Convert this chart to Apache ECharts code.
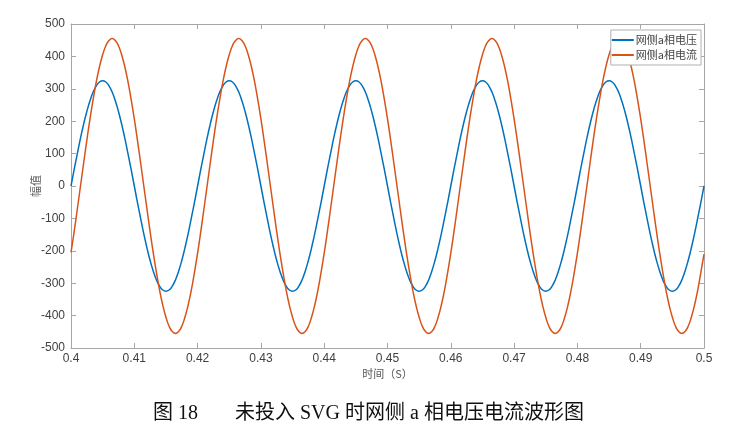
<!DOCTYPE html>
<html>
<head>
<meta charset="utf-8">
<script src="https://cdn.jsdelivr.net/npm/echarts@6/dist/echarts.min.js"></script>
<style>html,body{margin:0;padding:0;background:#fff}#c{width:731px;height:432px}</style>
</head>
<body>
<div id="c"></div>
<script>
// sampling grid: 0.4 s to 0.5 s every 0.5 ms
var tStart = 0.4;
var tStep = 0.0005;
var voltage = [
0,51,100,148,191,230,263,290,309,321,325,321,309,290,263,230,191,148,100,51,
0,-51,-100,-148,-191,-230,-263,-290,-309,-321,-325,-321,-309,-290,-263,-230,-191,-148,-100,-51,
0,51,100,148,191,230,263,290,309,321,325,321,309,290,263,230,191,148,100,51,
0,-51,-100,-148,-191,-230,-263,-290,-309,-321,-325,-321,-309,-290,-263,-230,-191,-148,-100,-51,
0,51,100,148,191,230,263,290,309,321,325,321,309,290,263,230,191,148,100,51,
0,-51,-100,-148,-191,-230,-263,-290,-309,-321,-325,-321,-309,-290,-263,-230,-191,-148,-100,-51,
0,51,100,148,191,230,263,290,309,321,325,321,309,290,263,230,191,148,100,51,
0,-51,-100,-148,-191,-230,-263,-290,-309,-321,-325,-321,-309,-290,-263,-230,-191,-148,-100,-51,
0,51,100,148,191,230,263,290,309,321,325,321,309,290,263,230,191,148,100,51,
0,-51,-100,-148,-191,-230,-263,-290,-309,-321,-325,-321,-309,-290,-263,-230,-191,-148,-100,-51,
0];
var current = [
-205,-141,-71,0,71,141,207,267,322,368,405,433,449,455,449,433,405,368,322,267,
207,141,71,0,-71,-141,-207,-267,-322,-368,-405,-433,-449,-455,-449,-433,-405,-368,-322,-267,
-207,-141,-71,0,71,141,207,267,322,368,405,433,449,455,449,433,405,368,322,267,
207,141,71,0,-71,-141,-207,-267,-322,-368,-405,-433,-449,-455,-449,-433,-405,-368,-322,-267,
-207,-141,-71,0,71,141,207,267,322,368,405,433,449,455,449,433,405,368,322,267,
207,141,71,0,-71,-141,-207,-267,-322,-368,-405,-433,-449,-455,-449,-433,-405,-368,-322,-267,
-207,-141,-71,0,71,141,207,267,322,368,405,433,449,455,449,433,405,368,322,267,
207,141,71,0,-71,-141,-207,-267,-322,-368,-405,-433,-449,-455,-449,-433,-405,-368,-322,-267,
-207,-141,-71,0,71,141,207,267,322,368,405,433,449,455,449,433,405,368,322,267,
207,141,71,0,-71,-141,-207,-267,-322,-368,-405,-433,-449,-455,-449,-433,-405,-368,-322,-267,
-210];
var seriesNames = ['网侧a相电压','网侧a相电流'];
var xName = '时间（S）';
var yName = '幅值';
var captionNo = '图 18';
var captionText = '未投入 SVG 时网侧 a 相电压电流波形图';

function pairs(vals){ return vals.map(function(v,i){ return [+(tStart + i*tStep).toFixed(4), v]; }); }

var axisGrey = '#a6a6a6';
var labelColor = '#404040';
var chart = echarts.init(document.getElementById('c'));
chart.setOption({
  animation: false,
  backgroundColor: '#fff',
  grid: {left: 71, right: 27, top: 24, bottom: 84},
  legend: {
    right: 30, top: 30, orient: 'vertical', itemGap: 1,
    itemWidth: 22, itemHeight: 2, padding: [3, 4, 3, 1],
    borderColor: '#b0b0b0', borderWidth: 1, backgroundColor: '#fff',
    textStyle: {fontSize: 11, lineHeight: 14, color: '#444', fontFamily: 'Noto Sans CJK SC', padding: [0, 0, 0, -3]},
    icon: 'rect',
    data: seriesNames
  },
  xAxis: [{
    type: 'value', min: 0.4, max: 0.5, interval: 0.01,
    name: xName, nameLocation: 'middle', nameGap: 20, nameMoveOverlap: false,
    nameTextStyle: {fontSize: 11, color: '#555', fontFamily: 'Noto Sans CJK SC'},
    axisLine: {show: true, onZero: false, lineStyle: {color: axisGrey}},
    axisTick: {inside: true, length: 5, lineStyle: {color: axisGrey}},
    axisLabel: {color: labelColor, fontSize: 12, fontFamily: 'Liberation Sans', margin: 5,
      formatter: function(v){ return String(+v.toFixed(2)); }},
    splitLine: {show: false}
  },{
    type: 'value', position: 'top', min: 0.4, max: 0.5, interval: 0.01,
    axisLine: {show: true, onZero: false, lineStyle: {color: axisGrey}},
    axisTick: {inside: true, length: 5, lineStyle: {color: axisGrey}},
    axisLabel: {show: false}, splitLine: {show: false}
  }],
  yAxis: [{
    type: 'value', min: -500, max: 500, interval: 100,
    name: yName, nameLocation: 'middle', nameGap: 30, nameMoveOverlap: false,
    nameTextStyle: {fontSize: 11, color: '#555', fontFamily: 'Noto Sans CJK SC'},
    axisLine: {show: true, onZero: false, lineStyle: {color: axisGrey}},
    axisTick: {show: true, inside: true, length: 5, lineStyle: {color: axisGrey}},
    axisLabel: {color: labelColor, fontSize: 12, fontFamily: 'Liberation Sans', margin: 6},
    splitLine: {show: false}
  },{
    type: 'value', position: 'right', min: -500, max: 500, interval: 100,
    axisLine: {show: true, onZero: false, lineStyle: {color: axisGrey}},
    axisTick: {show: true, inside: true, length: 5, lineStyle: {color: axisGrey}},
    axisLabel: {show: false}, splitLine: {show: false}
  }],
  series: [{
    name: seriesNames[0], type: 'line', data: pairs(voltage), smooth: true,
    showSymbol: false, symbol: 'none', color: '#0072BD',
    lineStyle: {width: 1.5, color: '#0072BD'}
  },{
    name: seriesNames[1], type: 'line', data: pairs(current), smooth: true,
    showSymbol: false, symbol: 'none', color: '#D95319',
    lineStyle: {width: 1.5, color: '#D95319'}
  }],
  graphic: [{
    type: 'text', left: 153, top: 404,
    style: {text: captionNo, font: '20px "Liberation Serif", "Noto Sans CJK SC"', fill: '#111'}
  },{
    type: 'text', left: 235, top: 404,
    style: {text: captionText, font: '20px "Liberation Serif", "Noto Sans CJK SC"', fill: '#111'}
  }]
});
</script>
</body>
</html>
